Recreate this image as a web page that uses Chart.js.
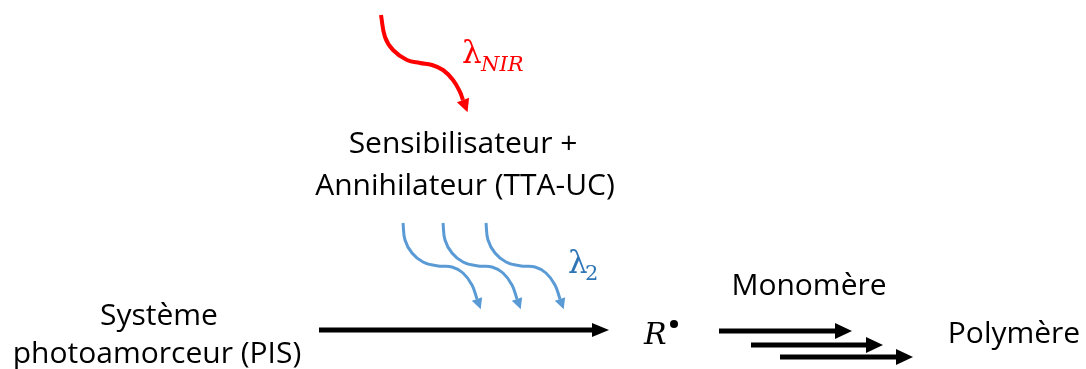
<!DOCTYPE html>
<html>
<head>
<meta charset="utf-8">
<script src="https://cdn.jsdelivr.net/npm/chart.js@4.4.0/dist/chart.umd.min.js"></script>
<style>
  html, body { margin: 0; padding: 0; background: #fff; }
  #wrap { width: 1086px; height: 369px; position: relative; }
</style>
</head>
<body>
<div id="wrap"><canvas id="scheme"></canvas></div>
<script>
// scheme coordinates (x right, y down), one array per path
const nirX = [381, 385, 393, 407, 420, 432, 443, 453, 460, 463];
const nirY = [15, 37, 50, 60, 63, 65, 70, 80, 92, 100];

const uc1X = [403, 405, 412, 423, 438, 452, 463, 472, 477];
const uc1Y = [223, 240, 253, 262, 266, 267, 273, 285, 299];
const uc2X = [443, 445, 452, 463, 478, 492, 503, 512, 517];
const uc2Y = [223, 240, 253, 262, 266, 267, 273, 285, 299];
const uc3X = [486, 488, 495, 506, 521, 535, 546, 555, 560];
const uc3Y = [223, 240, 253, 262, 266, 267, 273, 285, 299];

const pisX = [319, 592];
const pisY = [330, 330];

const mono1X = [719, 835];
const mono1Y = [331, 331];
const mono2X = [751, 866];
const mono2Y = [345, 345];
const mono3X = [780, 896];
const mono3Y = [357, 357];

const labels = ['Sensibilisateur +', 'Annihilateur (TTA-UC)', 'Système', 'photoamorceur (PIS)', 'Monomère', 'Polymère'];
const labelX = [463, 465, 159, 157, 809, 1014];
const labelY = [153, 195, 325, 363, 295, 343];

const pts = (xs, ys) => xs.map((x, i) => ({ x: x, y: ys[i] }));

const RED = '#FF0000';
const BLUE = '#5B9BD5';

function path(xs, ys, color, width, head) {
    return {
        data: pts(xs, ys),
        showLine: true,
        borderColor: color,
        borderWidth: width,
        borderCapStyle: 'butt',
        tension: 0.4,
        pointRadius: 0,
        head: head
    };
}

const arrowHeads = {
    id: 'arrowHeads',
    afterDatasetsDraw(chart) {
        const ctx = chart.ctx;
        chart.data.datasets.forEach((ds, i) => {
            if (!ds.head) return;
            const el = chart.getDatasetMeta(i).data;
            const a = el[el.length - 2], b = el[el.length - 1];
            let dx = b.x - a.x, dy = b.y - a.y;
            const d = Math.hypot(dx, dy);
            dx /= d; dy /= d;
            const len = ds.head[0], half = ds.head[1] / 2;
            ctx.save();
            ctx.fillStyle = ds.borderColor;
            ctx.beginPath();
            ctx.moveTo(b.x + dx * len, b.y + dy * len);
            ctx.lineTo(b.x - dy * half, b.y + dx * half);
            ctx.lineTo(b.x + dy * half, b.y - dx * half);
            ctx.closePath();
            ctx.fill();
            ctx.restore();
        });
    }
};

const textLayer = {
    id: 'textLayer',
    afterDraw(chart) {
        const ctx = chart.ctx;
        const sx = chart.scales.x, sy = chart.scales.y;
        const px = v => sx.getPixelForValue(v);
        const py = v => sy.getPixelForValue(v);
        ctx.save();
        ctx.textBaseline = 'alphabetic';
        ctx.textAlign = 'center';
        ctx.fillStyle = '#000';
        ctx.font = '30px "Open Sans"';
        labels.forEach((t, i) => ctx.fillText(t, px(labelX[i]), py(labelY[i])));

        ctx.textAlign = 'left';
        // lambda NIR
        ctx.fillStyle = RED;
        ctx.font = '31px "DejaVu Serif"';
        ctx.fillText('λ', px(462), py(63));
        ctx.font = 'italic 21px "DejaVu Serif"';
        ctx.fillText('NIR', px(481), py(71));
        // lambda 2
        ctx.fillStyle = '#2E75B6';
        ctx.font = '31px "DejaVu Serif"';
        ctx.fillText('λ', px(568), py(273));
        ctx.font = '21px "DejaVu Serif"';
        ctx.fillText('2', px(585), py(280));
        // R radical
        ctx.fillStyle = '#000';
        ctx.font = 'italic 30px "DejaVu Serif"';
        ctx.fillText('R', px(644), py(344));
        ctx.beginPath();
        ctx.arc(px(674), py(324), 4, 0, Math.PI * 2);
        ctx.fill();
        ctx.restore();
    }
};

new Chart(document.getElementById('scheme').getContext('2d'), {
    type: 'scatter',
    data: {
        datasets: [
            path(nirX, nirY, RED, 4, [13, 13]),
            path(uc1X, uc1Y, BLUE, 3, [11, 11]),
            path(uc2X, uc2Y, BLUE, 3, [11, 11]),
            path(uc3X, uc3Y, BLUE, 3, [11, 11]),
            path(pisX, pisY, '#000', 5, [17, 14]),
            path(mono1X, mono1Y, '#000', 5, [17, 16]),
            path(mono2X, mono2Y, '#000', 5, [17, 16]),
            path(mono3X, mono3Y, '#000', 5, [17, 16])
        ]
    },
    options: {
        responsive: true,
        maintainAspectRatio: false,
        animation: false,
        layout: { padding: 0 },
        plugins: { legend: { display: false }, tooltip: { enabled: false } },
        scales: {
            x: { type: 'linear', min: 0, max: 1086, display: false },
            y: { type: 'linear', min: 0, max: 369, reverse: true, display: false }
        }
    },
    plugins: [arrowHeads, textLayer]
});
</script>
</body>
</html>
